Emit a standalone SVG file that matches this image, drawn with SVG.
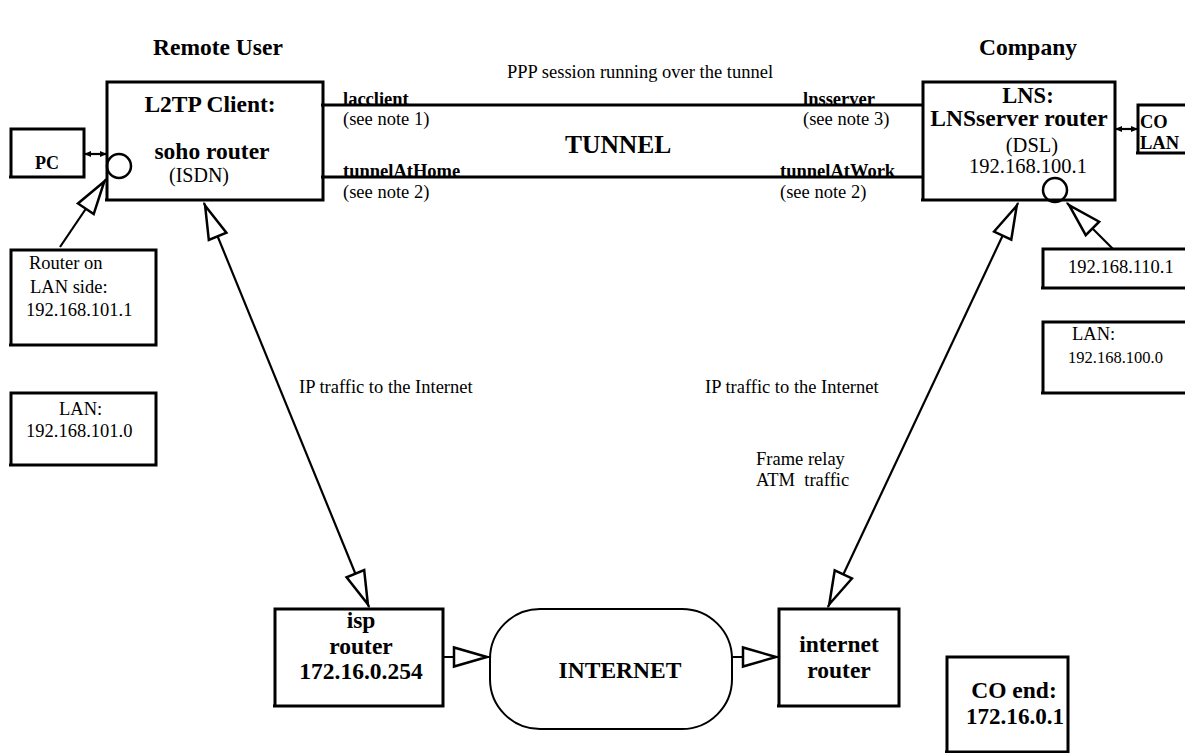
<svg xmlns="http://www.w3.org/2000/svg" width="1185" height="753" viewBox="0 0 1185 753">
  <style>
    text { font-family: "Liberation Serif", "Times New Roman", serif; fill: #000; }
    .b { font-weight: bold; }
    .big { font-size: 23.5px; }
    .lbl { font-size: 18.5px; }
    .box { fill: none; stroke: #000; stroke-width: 3; stroke-linejoin: miter; }
    .wire { fill: none; stroke: #000; stroke-width: 2.2; }
    .tun { fill: none; stroke: #000; stroke-width: 3; }
    .port { fill: none; stroke: #000; stroke-width: 2.5; }
  </style>
  <defs>
    <marker id="hollow" viewBox="-40 -14 44 28" markerWidth="44" markerHeight="28" refX="0" refY="0" orient="auto-start-reverse" markerUnits="userSpaceOnUse" overflow="visible">
      <path d="M-3,0 L-36,-9.5 L-36,9.5 Z" fill="#fff" stroke="#000" stroke-width="2.5"/>
    </marker>
    <marker id="tiny" viewBox="-8 -4 10 8" markerWidth="10" markerHeight="8" refX="0" refY="0" orient="auto-start-reverse" markerUnits="userSpaceOnUse" overflow="visible">
      <path d="M0,0 L-7,-3 L-7,3 Z" fill="#000"/>
    </marker>
  </defs>
  <rect width="1185" height="753" fill="#fff"/>

  <!-- section headings -->
  <g id="headings">
    <text class="b big" x="153" y="55">Remote User</text>
    <text class="b big" x="1028" y="55" text-anchor="middle">Company</text>
  </g>

  <!-- connectors -->
  <g id="connectors">
    <line class="tun" x1="321" y1="105" x2="923" y2="105"/>
    <line class="tun" x1="321" y1="177" x2="923" y2="177"/>
    <line class="wire" x1="84" y1="154" x2="107" y2="154" stroke-width="1.8" marker-start="url(#tiny)" marker-end="url(#tiny)"/>
    <line class="wire" x1="1115" y1="129" x2="1138" y2="129" stroke-width="1.8" marker-start="url(#tiny)" marker-end="url(#tiny)"/>
    <line class="wire" x1="60" y1="247" x2="106" y2="179" marker-end="url(#hollow)"/>
    <line class="wire" x1="1113" y1="249" x2="1067" y2="203" marker-end="url(#hollow)"/>
    <line class="wire" x1="204" y1="203" x2="369" y2="607" marker-start="url(#hollow)" marker-end="url(#hollow)"/>
    <line class="wire" x1="1018" y1="203" x2="828" y2="607" marker-start="url(#hollow)" marker-end="url(#hollow)"/>
    <line class="wire" x1="443" y1="657" x2="490" y2="657" marker-end="url(#hollow)"/>
    <line class="wire" x1="732" y1="657" x2="779" y2="657" marker-end="url(#hollow)"/>
  </g>

  <!-- tunnel labels -->
  <g id="tunnel-labels">
    <text class="lbl" x="507" y="78">PPP session running over the tunnel</text>
    <text class="b lbl" x="343" y="105">lacclient</text>
    <text class="lbl" x="343" y="125">(see note 1)</text>
    <text class="b" x="565" y="153" font-size="25.5">TUNNEL</text>
    <text class="b lbl" x="343" y="177">tunnelAtHome</text>
    <text class="lbl" x="343" y="198">(see note 2)</text>
    <text class="b lbl" x="803" y="105">lnsserver</text>
    <text class="lbl" x="803" y="125">(see note 3)</text>
    <text class="b lbl" x="780" y="177">tunnelAtWork</text>
    <text class="lbl" x="780" y="198">(see note 2)</text>
    <text class="lbl" x="299" y="393">IP traffic to the Internet</text>
    <text class="lbl" x="705" y="393">IP traffic to the Internet</text>
    <text class="lbl" x="756" y="465">Frame relay</text>
    <text class="lbl" x="756" y="486" xml:space="preserve">ATM  traffic</text>
  </g>

  <g id="pc">
    <path class="box" d="M9,177 H84 V129 H11 V177"/>
    <text class="b" x="35" y="169" font-size="18">PC</text>
  </g>

  <g id="l2tp-client">
    <path class="box" d="M105,200 H323 V82 H107 V200"/>
    <circle class="port" cx="119" cy="166" r="12"/>
    <text class="b big" x="210" y="112" text-anchor="middle">L2TP Client:</text>
    <text class="b big" x="212" y="159" text-anchor="middle">soho router</text>
    <text x="199" y="182" font-size="20" text-anchor="middle">(ISDN)</text>
  </g>

  <g id="lan-router">
    <path class="box" d="M9,345 H156 V250 H11 V345"/>
    <text class="lbl" x="29" y="269">Router on</text>
    <text class="lbl" x="30" y="293">LAN side:</text>
    <text class="lbl" x="26" y="316">192.168.101.1</text>
  </g>

  <g id="lan-home">
    <path class="box" d="M9,465 H156 V393 H11 V465"/>
    <text class="lbl" x="59" y="415">LAN:</text>
    <text class="lbl" x="26" y="437">192.168.101.0</text>
  </g>

  <g id="lns">
    <path class="box" d="M921,200 H1115 V82 H923 V200"/>
    <circle class="port" cx="1055" cy="190" r="12"/>
    <text class="b" x="1028" y="103" font-size="22.5" text-anchor="middle">LNS:</text>
    <text class="b big" x="1019" y="126" text-anchor="middle">LNSserver router</text>
    <text x="1032" y="152" font-size="20.5" text-anchor="middle">(DSL)</text>
    <text x="1028" y="173" font-size="20.5" text-anchor="middle">192.168.100.1</text>
  </g>

  <g id="co-lan">
    <path class="box" d="M1190,153 H1136 M1138,153 V105 H1190"/>
    <text class="b" x="1140" y="128" font-size="18.5">CO</text>
    <text class="b" x="1140" y="149" font-size="18.5">LAN</text>
  </g>

  <g id="lan-gateway">
    <path class="box" d="M1190,288 H1041 M1043,288 V249 H1190"/>
    <text class="lbl" x="1068" y="273">192.168.110.1</text>
  </g>

  <g id="lan-company">
    <path class="box" d="M1190,393 H1041 M1043,393 V322 H1190"/>
    <text class="lbl" x="1072" y="340">LAN:</text>
    <text x="1068" y="363" font-size="16.5">192.168.100.0</text>
  </g>

  <g id="isp-router">
    <path class="box" d="M273,706 H443 V609 H275 V706"/>
    <text class="b big" x="361" y="628" text-anchor="middle">isp</text>
    <text class="b big" x="361" y="654" text-anchor="middle">router</text>
    <text class="b big" x="361" y="679" text-anchor="middle">172.16.0.254</text>
  </g>

  <g id="internet">
    <rect x="490" y="609" width="242" height="120" rx="50" ry="50" fill="none" stroke="#000" stroke-width="2"/>
    <text class="b big" x="620" y="678" text-anchor="middle">INTERNET</text>
  </g>

  <g id="internet-router">
    <path class="box" d="M777,706 H899 V609 H779 V706"/>
    <text class="b big" x="839" y="652" text-anchor="middle">internet</text>
    <text class="b big" x="839" y="678" text-anchor="middle">router</text>
  </g>

  <g id="co-end">
    <path class="box" d="M945,752 H1068 V657 H947 V752"/>
    <text class="b big" x="1014" y="698" text-anchor="middle">CO end:</text>
    <text class="b big" x="966" y="724" textLength="98" lengthAdjust="spacingAndGlyphs">172.16.0.1</text>
  </g>
</svg>
